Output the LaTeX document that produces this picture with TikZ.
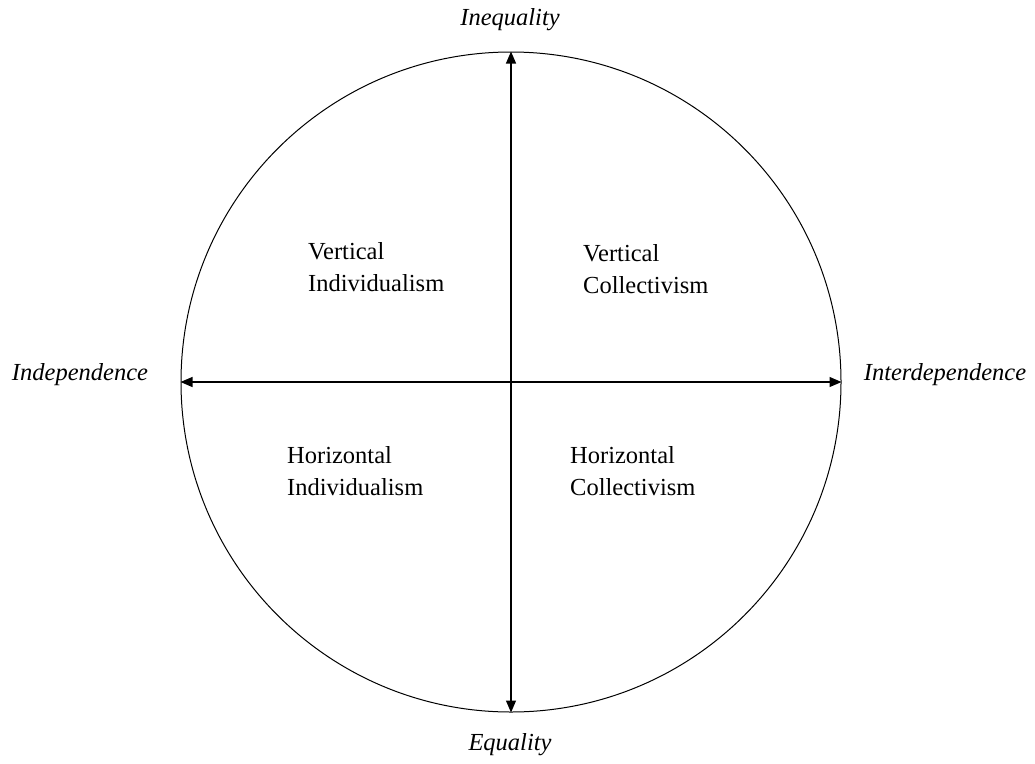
\documentclass[tikz,border=0pt]{standalone}
\usepackage{fontspec}
\setmainfont{Liberation Serif}
\usetikzlibrary{arrows.meta}
\begin{document}
\begin{tikzpicture}[x=1pt,y=-1pt,
  pole/.style={font=\fontsize{24.5}{30}\selectfont\itshape},
  quad/.style={font=\fontsize{24.5}{31.5}\selectfont, align=left, anchor=west, inner sep=0pt},
  axis/.style={line width=1.1pt, {Triangle[length=12pt,width=10pt]}-{Triangle[length=12pt,width=10pt]}}]
\useasboundingbox (0,0) rectangle (1035,763);
\node[circle, draw, line width=1pt, minimum size=660pt, inner sep=0pt] (ring) at (511,382) {};
\draw[axis] (ring.north) -- (ring.south);
\draw[axis] (ring.west) -- (ring.east);
\node[pole] (top) at (510,20) {Inequality};
\node[pole] (bottom) at (510,745) {Equality};
\node[pole] (left) at (80,375) {Independence};
\node[pole] (right) at (945,375) {Interdependence};
\node[quad] (vi) at (308,267) {Vertical\\Individualism};
\node[quad] (vc) at (583,269) {Vertical\\Collectivism};
\node[quad] (hi) at (287,471) {Horizontal\\Individualism};
\node[quad] (hc) at (570,471) {Horizontal\\Collectivism};
\end{tikzpicture}
\end{document}
